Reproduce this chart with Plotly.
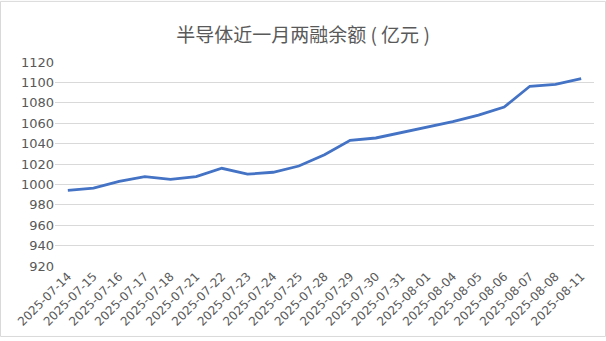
import plotly.graph_objects as go

dates = ["2025-07-14", "2025-07-15", "2025-07-16", "2025-07-17", "2025-07-18",
         "2025-07-21", "2025-07-22", "2025-07-23", "2025-07-24", "2025-07-25",
         "2025-07-28", "2025-07-29", "2025-07-30", "2025-07-31", "2025-08-01",
         "2025-08-04", "2025-08-05", "2025-08-06", "2025-08-07", "2025-08-08",
         "2025-08-11"]
balance = [994.2, 996.4, 1002.9, 1007.7, 1004.9, 1007.7, 1015.8, 1010.0, 1011.9, 1018.0,
           1029.0, 1043.2, 1045.5, 1050.6, 1055.8, 1061.5, 1068.0, 1075.8, 1096.2, 1098.0,
           1103.8]
y_ticks = [920, 940, 960, 980, 1000, 1020, 1040, 1060, 1080, 1100, 1120]
title_text = "半导体近一月两融余额 ( 亿元 )"

fig = go.Figure()
fig.add_trace(go.Scatter(
    x=dates, y=balance, mode="lines",
    line=dict(color="#4472C4", width=2.8),
    hoverinfo="x+y",
))

W, H = 606, 341
ml, mr, mt, mb = 55, 12, 62, 72
pw, ph = W - ml - mr, H - mt - mb

fig.update_layout(
    width=W, height=H,
    margin=dict(l=ml, r=mr, t=mt, b=mb),
    paper_bgcolor="white", plot_bgcolor="white",
    showlegend=False,
    title=dict(text=title_text, x=0.5, xref="container", xanchor="center",
               y=1 - 35 / H, yanchor="middle", yref="container",
               font=dict(family="Noto Sans CJK SC", size=19, color="#595959")),
    font=dict(family="DejaVu Sans", color="#595959"),
    xaxis=dict(type="category", tickangle=-45, showgrid=False, zeroline=False,
               showline=False, ticks="", tickfont=dict(size=12, color="#595959"),
               range=[-0.5, len(dates) - 0.5], fixedrange=True),
    yaxis=dict(range=[920, 1120], tickvals=y_ticks, showgrid=True,
               gridcolor="#d9d9d9", gridwidth=1, zeroline=False, showline=False,
               ticks="", tickfont=dict(size=13, color="#595959"), fixedrange=True),
    shapes=[dict(type="rect", xref="paper", yref="paper",
                 x0=(0.5 - ml) / pw, x1=(W - 0.5 - ml) / pw,
                 y0=(H - mb - (H - 0.5)) / ph, y1=(H - mb - 0.5) / ph,
                 line=dict(color="#d9d9d9", width=1), layer="below")],
)

fig.write_html("out.html")
